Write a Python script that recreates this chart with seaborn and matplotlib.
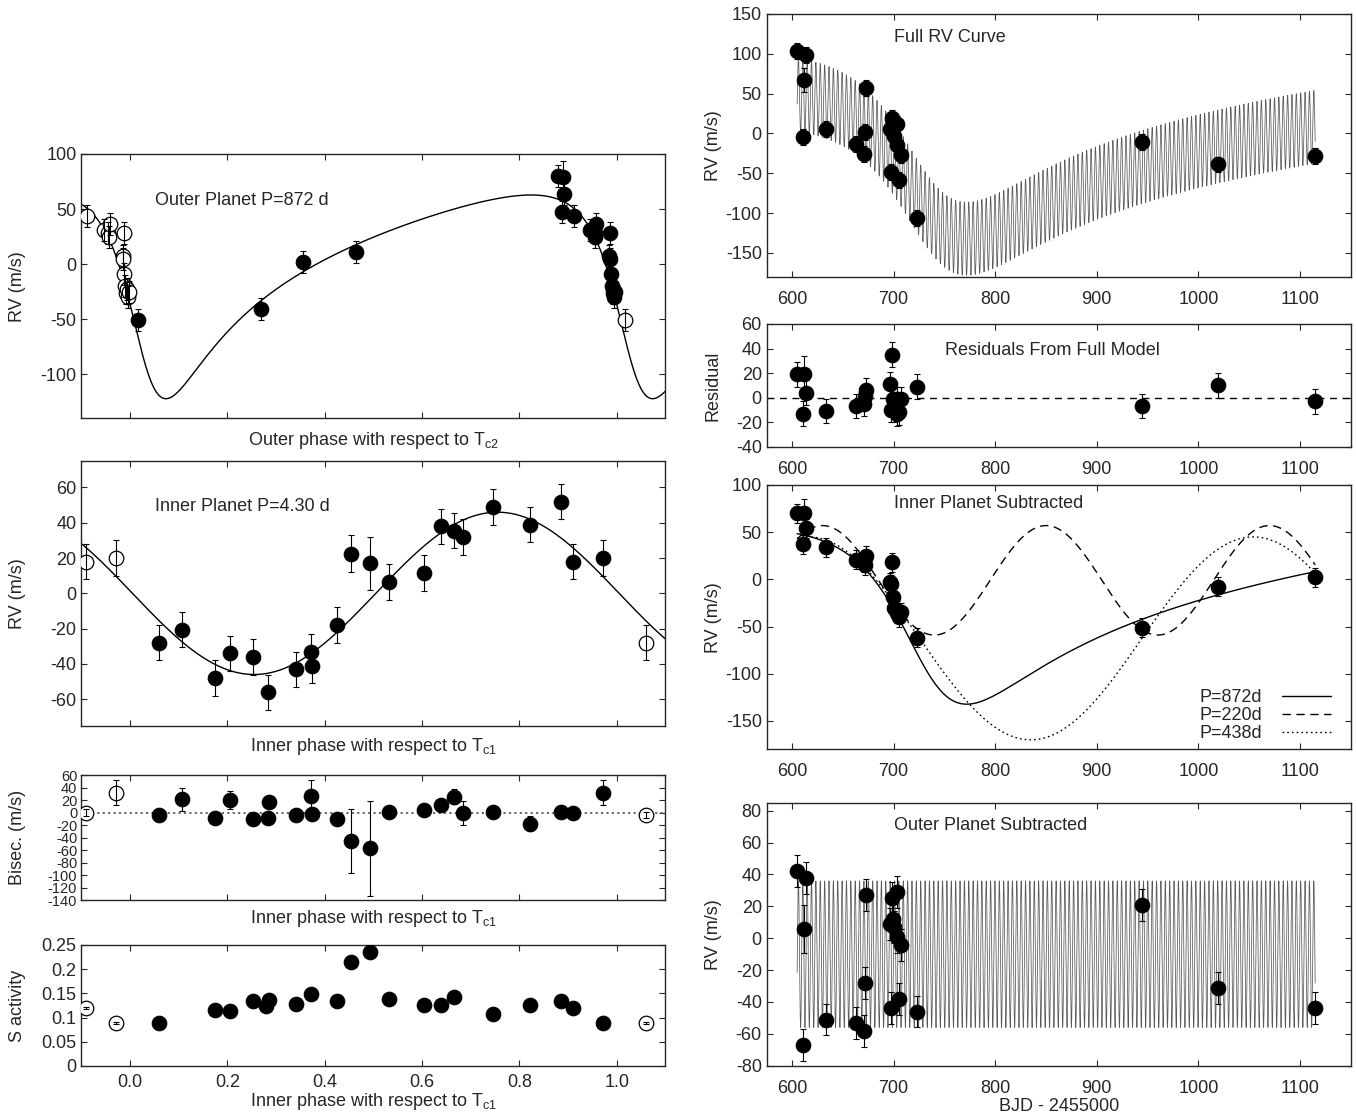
import numpy as np
import seaborn as sns
import matplotlib.pyplot as plt
from matplotlib.ticker import FormatStrFormatter

sns.set_style("ticks")
plt.rcParams.update({
    "font.family": ["Liberation Sans", "DejaVu Sans"],
    "font.size": 13,
    "mathtext.fontset": "custom",
    "mathtext.rm": "Liberation Sans",
    "axes.unicode_minus": False,
    "axes.linewidth": 1.0,
    "xtick.direction": "in",
    "ytick.direction": "in",
    "xtick.top": True,
    "ytick.right": True,
    "xtick.major.size": 4,
    "ytick.major.size": 4,
    "xtick.labelsize": 13,
    "ytick.labelsize": 13,
})

# ---- time series (BJD - 2455000) ----
obs_time = [605.0, 611.0, 612.0, 613.8, 633.0, 663.0, 671.0, 672.0, 673.0, 696.5, 697.5,
            698.4, 699.5, 700.7, 703.0, 703.4, 705.0, 706.8, 722.7, 944.6, 1019.6, 1115.0]
rv_full = [103, -5, 67, 99, 5, -13, -26, 2, 57, 6, -48, 19, 14, -3, -15, 12, -58, -27, -106, -11, -39, -28]
rv_resid = [19, -13, 19, 4, -11, -7, -5, 1, 6, 11, -10, 35, -1, -10, -13, -1, -12, -1, 9, -7, 10, -3]
rv_inner_sub = [70, 37, 70, 54, 34, 21, 18, 15, 25, -3, -5, 18, -19, -30, -36, -33, -40, -35, -62, -51, -8, 2]
rv_outer_sub = [42, -67, 6, 38, -51, -53, -58, -28, 27, 9, -44, 25, 12, 7, 1, 29, -38, -4, -46, 21, -31, -44]
rv_err = [10, 10, 15, 10, 10, 10, 10, 10, 10, 10, 10, 10, 10, 10, 10, 10, 10, 10, 10, 10, 10, 10]

# ---- outer planet phase plot ----
outer_phase = [0.880, 0.887, 0.889, 0.891, 0.912, 0.946, 0.955, 0.956, 0.958, 0.985, 0.986,
               0.987, 0.988, 0.990, 0.992, 0.993, 0.995, 0.997, 0.016, 0.269, 0.356, 0.465]
outer_rv = [80, 47, 79, 64, 44, 31, 28, 25, 36, 7, 5, 28, -9, -20, -26, -23, -30, -25, -51, -41, 2, 11]
outer_err = [10, 10, 15, 10, 10, 10, 10, 10, 10, 10, 10, 10, 10, 10, 10, 10, 10, 10, 10, 10, 10, 10]

# ---- inner planet phase plot ----
inner_phase = [0.060, 0.107, 0.175, 0.205, 0.253, 0.283, 0.340, 0.372, 0.373, 0.426, 0.455,
               0.493, 0.533, 0.605, 0.638, 0.665, 0.684, 0.746, 0.822, 0.886, 0.910, 0.972]
inner_rv = [-28, -20.5, -48, -34, -36, -56, -43, -33, -41, -18, 22.5, 17, 6.5, 11.5, 38, 35.5, 32, 49, 39, 52, 18, 20]
inner_err = [10, 10, 10, 10, 10, 10, 10, 10, 10, 10, 10.5, 15, 10, 10, 10, 10, 10, 10, 10, 10, 10, 10]

# ---- bisector ----
bis_phase = [0.060, 0.107, 0.175, 0.205, 0.253, 0.283, 0.286, 0.340, 0.372, 0.373, 0.426, 0.455,
             0.493, 0.533, 0.605, 0.638, 0.665, 0.684, 0.746, 0.822, 0.886, 0.910, 0.972]
bis_val = [-4, 21, -8, 20, -11, -9, 17, -4, 27, -3, -11, -46, -57, 1, 4, 12, 25, -1, 1, -18, 1, 0, 32]
bis_err = [5, 19, 5, 15, 5, 5, 5, 5, 25, 5, 5, 51, 76, 5, 5, 5, 12, 19, 5, 12, 5, 5, 20]

# ---- S activity ----
s_phase = [0.060, 0.175, 0.205, 0.253, 0.280, 0.286, 0.340, 0.372, 0.426, 0.455, 0.493, 0.533,
           0.605, 0.638, 0.665, 0.746, 0.822, 0.886, 0.910, 0.972]
s_val = [0.089, 0.116, 0.114, 0.134, 0.123, 0.136, 0.128, 0.148, 0.135, 0.214, 0.235, 0.139,
         0.125, 0.125, 0.143, 0.107, 0.125, 0.134, 0.119, 0.088]
s_err = [0.002] * len(s_val)

# ---- orbital model parameters ----
P_OUTER, K_OUTER, E_OUTER, W_OUTER, TP_OUTER = 872.0, 92.5, 0.5, np.radians(130), 733.8
T_C2 = TP_OUTER - 0.030 * P_OUTER
P_INNER, K_INNER, INNER_MAX_PHASE, T_C1 = 4.30, 46.0, 0.755, 603.0
GAMMA = -10.0
ALT_220 = dict(period=220.0, k=58.0, ecc=0.0, omega=0.0, tp=630.0, gamma=-1.0)
ALT_438 = dict(period=438.0, k=107.5, ecc=0.0, omega=np.pi, tp=835.0, gamma=-62.5)


def keplerian(t, period, k, ecc, omega, tp, gamma=0.0):
    m = 2 * np.pi * (np.asarray(t, dtype=float) - tp) / period
    ea = m.copy()
    for _ in range(40):
        ea = ea - (ea - ecc * np.sin(ea) - m) / (1 - ecc * np.cos(ea))
    nu = 2 * np.arctan2(np.sqrt(1 + ecc) * np.sin(ea / 2), np.sqrt(1 - ecc) * np.cos(ea / 2))
    return gamma + k * (np.cos(nu + omega) + ecc * np.cos(omega))


def outer_model(t):
    return keplerian(t, P_OUTER, K_OUTER, E_OUTER, W_OUTER, TP_OUTER)


def inner_model(t):
    return keplerian(t, P_INNER, K_INNER, 0.0, 0.0, T_C1 + INNER_MAX_PHASE * P_INNER)


def wrap(phase, val, err):
    ph = np.asarray(phase)
    v = np.asarray(val)
    e = np.asarray(err)
    lo = ph > 0.9
    hi = ph < 0.1
    return (np.concatenate([ph[lo] - 1, ph[hi] + 1]),
            np.concatenate([v[lo], v[hi]]),
            np.concatenate([e[lo], e[hi]]))


def draw_points(ax, x, y, err, filled=True):
    if filled:
        ax.errorbar(x, y, yerr=err, fmt="none", ecolor="black", elinewidth=0.8,
                    capsize=2.5, capthick=0.8, zorder=2)
        sns.scatterplot(x=x, y=y, ax=ax, s=110, color="black", edgecolor="black",
                        linewidth=0.8, zorder=3, legend=False)
    else:
        sns.scatterplot(x=x, y=y, ax=ax, s=110, color="white", edgecolor="black",
                        linewidth=0.9, zorder=3, legend=False)
        ax.errorbar(x, y, yerr=err, fmt="none", ecolor="black", elinewidth=0.8,
                    capsize=2.5, capthick=0.8, zorder=4)


def phase_panel(ax, phase, val, err):
    draw_points(ax, phase, val, err)
    wx, wy, we = wrap(phase, val, err)
    draw_points(ax, wx, wy, we, filled=False)
    ax.set_xlim(-0.1, 1.1)
    ax.set_xticks([0.0, 0.2, 0.4, 0.6, 0.8, 1.0])
    ax.yaxis.set_label_coords(-0.095, 0.5)


fig = plt.figure(figsize=(13.56, 11.19), dpi=100)
LX, RX, W = 0.0600, 0.5654, 0.4307
ax_outer = fig.add_axes([LX, 0.6262, W, 0.2362])
ax_inner = fig.add_axes([LX, 0.3515, W, 0.2365])
ax_bis = fig.add_axes([LX, 0.1957, W, 0.1117])
ax_s = fig.add_axes([LX, 0.0474, W, 0.1081])
ax_full = fig.add_axes([RX, 0.7527, W, 0.2348])
ax_res = fig.add_axes([RX, 0.6008, W, 0.1097])
ax_isub = fig.add_axes([RX, 0.3304, W, 0.2362])
ax_osub = fig.add_axes([RX, 0.0476, W, 0.2350])

ph_grid = np.linspace(-0.1, 1.1, 1500)
t_grid = np.linspace(605, 1115, 9000)

# outer planet phase
sns.lineplot(x=ph_grid, y=outer_model(T_C2 + ph_grid * P_OUTER), ax=ax_outer,
             color="black", lw=1.0, zorder=1)
phase_panel(ax_outer, outer_phase, outer_rv, outer_err)
ax_outer.set_ylim(-140, 100)
ax_outer.set_yticks([100, 50, 0, -50, -100])
ax_outer.set_xticklabels([])
ax_outer.set_ylabel("RV (m/s)")
ax_outer.set_xlabel(r"Outer phase with respect to T$_{\mathrm{c2}}$", labelpad=5)
ax_outer.text(0.052, 57.6, "Outer Planet P=872 d", ha="left", va="center", fontsize=13)

# inner planet phase
sns.lineplot(x=ph_grid, y=keplerian(ph_grid, 1.0, K_INNER, 0.0, 0.0, INNER_MAX_PHASE),
             ax=ax_inner, color="black", lw=1.0, zorder=1)
phase_panel(ax_inner, inner_phase, inner_rv, inner_err)
ax_inner.set_ylim(-75, 75)
ax_inner.set_yticks([60, 40, 20, 0, -20, -40, -60])
ax_inner.set_xticklabels([])
ax_inner.set_ylabel("RV (m/s)")
ax_inner.set_xlabel(r"Inner phase with respect to T$_{\mathrm{c1}}$", labelpad=4)
ax_inner.text(0.052, 49.5, "Inner Planet P=4.30 d", ha="left", va="center", fontsize=13)

# bisector
ax_bis.axhline(0, color="0.35", lw=1.3, ls=(0, (1.2, 1.8)), zorder=1)
phase_panel(ax_bis, bis_phase, bis_val, bis_err)
ax_bis.set_ylim(-140, 60)
ax_bis.set_yticks(np.arange(60, -141, -20))
ax_bis.tick_params(axis="y", labelsize=10.5, pad=3)
ax_bis.set_xticklabels([])
ax_bis.set_ylabel("Bisec. (m/s)")
ax_bis.set_xlabel(r"Inner phase with respect to T$_{\mathrm{c1}}$", labelpad=2)

# S activity
phase_panel(ax_s, s_phase, s_val, s_err)
ax_s.set_ylim(0, 0.25)
ax_s.set_yticks([0, 0.05, 0.1, 0.15, 0.2, 0.25])
ax_s.yaxis.set_major_formatter(FormatStrFormatter("%g"))
ax_s.xaxis.set_major_formatter(FormatStrFormatter("%.1f"))
ax_s.tick_params(axis="x", pad=6)
ax_s.set_ylabel("S activity")
ax_s.set_xlabel(r"Inner phase with respect to T$_{\mathrm{c1}}$", labelpad=0)

# right column
for ax in (ax_full, ax_res, ax_isub, ax_osub):
    ax.set_xlim(575, 1150)
    ax.set_xticks([600, 700, 800, 900, 1000, 1100])
    ax.tick_params(axis="x", pad=10)
    ax.yaxis.set_label_coords(-0.077, 0.5)

sns.lineplot(x=t_grid, y=GAMMA + outer_model(t_grid) + inner_model(t_grid), ax=ax_full,
             color="0.35", lw=0.55, zorder=1)
draw_points(ax_full, obs_time, rv_full, rv_err)
ax_full.set_ylim(-180, 150)
ax_full.set_yticks([150, 100, 50, 0, -50, -100, -150])
ax_full.set_ylabel("RV (m/s)")
ax_full.text(700.5, 121, "Full RV Curve", ha="left", va="center", fontsize=13)

ax_res.axhline(0, color="black", lw=1.0, ls=(0, (5, 4)), zorder=1)
draw_points(ax_res, obs_time, rv_resid, rv_err)
ax_res.set_ylim(-40, 60)
ax_res.set_yticks([60, 40, 20, 0, -20, -40])
ax_res.set_ylabel("Residual")
ax_res.text(750.8, 38.6, "Residuals From Full Model", ha="left", va="center", fontsize=13)

sns.lineplot(x=t_grid, y=GAMMA + outer_model(t_grid), ax=ax_isub, color="black", lw=1.0,
             label="P=872d", zorder=1)
sns.lineplot(x=t_grid, y=keplerian(t_grid, **ALT_220), ax=ax_isub, color="black", lw=1.0,
             ls=(0, (6, 4)), label="P=220d", zorder=1)
sns.lineplot(x=t_grid, y=keplerian(t_grid, **ALT_438), ax=ax_isub, color="black", lw=1.0,
             ls=(0, (1.2, 2.2)), label="P=438d", zorder=1)
draw_points(ax_isub, obs_time, rv_inner_sub, rv_err)
ax_isub.set_ylim(-180, 100)
ax_isub.set_yticks([100, 50, 0, -50, -100, -150])
ax_isub.set_ylabel("RV (m/s)")
ax_isub.text(700.5, 80.4, "Inner Planet Subtracted", ha="left", va="center", fontsize=13)
handles, labels = ax_isub.get_legend_handles_labels()
ax_isub.legend(handles, labels, loc="lower right", bbox_to_anchor=(0.966, 0.028), frameon=False,
               markerfirst=False, handlelength=2.7, labelspacing=0.05, handletextpad=1.1,
               fontsize=13, borderaxespad=0, borderpad=0)

sns.lineplot(x=t_grid, y=GAMMA + inner_model(t_grid), ax=ax_osub, color="0.35", lw=0.55, zorder=1)
draw_points(ax_osub, obs_time, rv_outer_sub, rv_err)
ax_osub.set_ylim(-80, 85)
ax_osub.set_yticks(np.arange(80, -81, -20))
ax_osub.set_ylabel("RV (m/s)")
ax_osub.set_xlabel("BJD - 2455000", labelpad=1)
ax_osub.text(700.5, 70.8, "Outer Planet Subtracted", ha="left", va="center", fontsize=13)

fig.savefig("out.png", dpi=100)
